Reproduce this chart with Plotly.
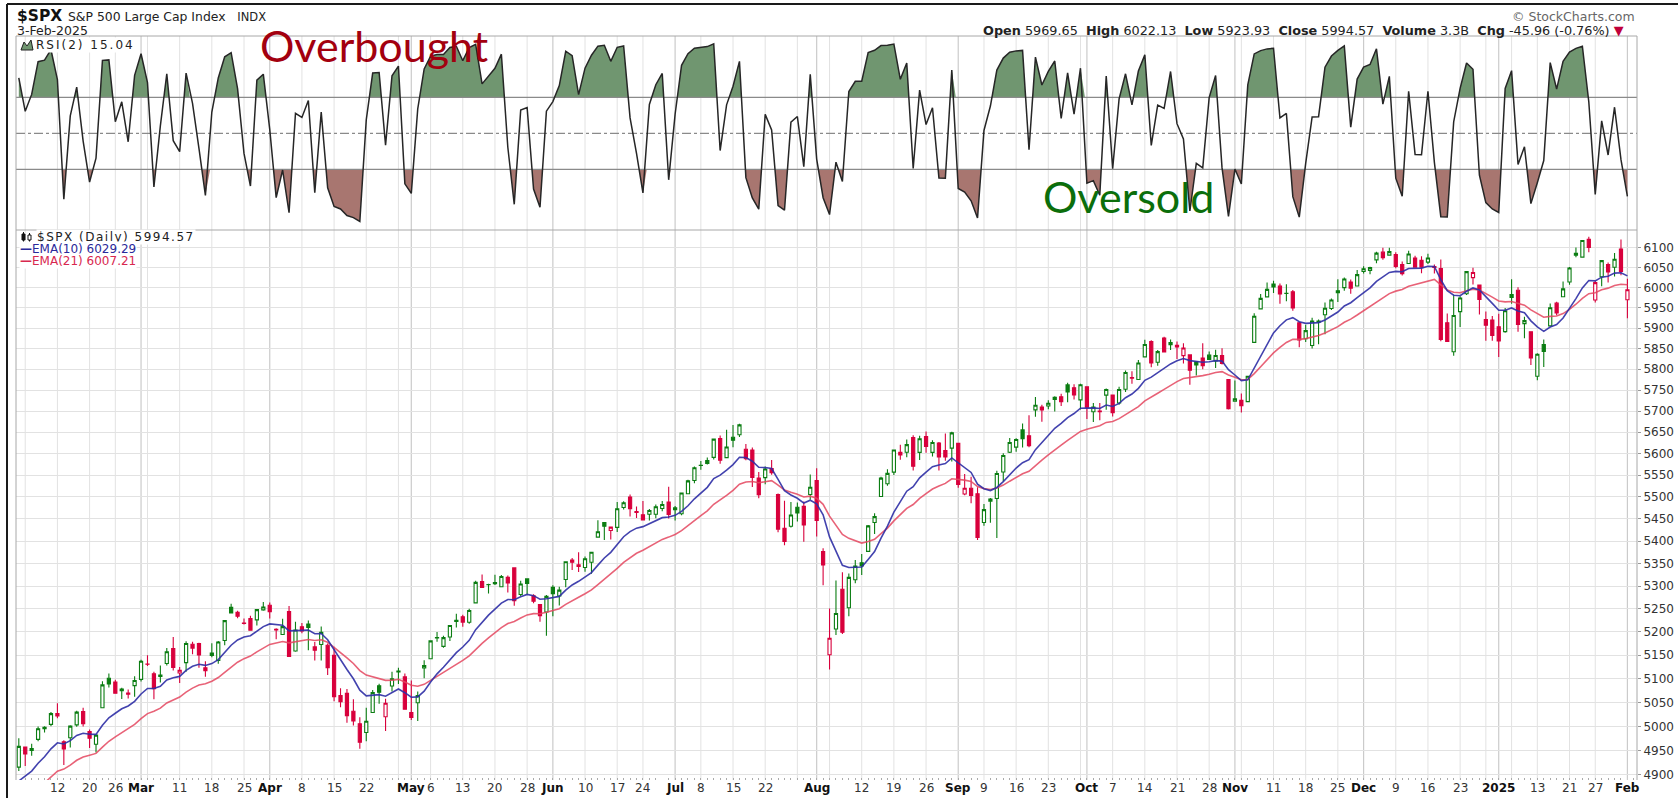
import math
import pandas as pd
import plotly.graph_objects as go

# ---------------- data ----------------
holidays = ["2024-02-19", "2024-03-29", "2024-05-27", "2024-06-19", "2024-07-04",
            "2024-09-02", "2024-11-28", "2024-12-25", "2025-01-01", "2025-01-09", "2025-01-20"]
dates = [d for d in pd.bdate_range("2024-02-02", "2025-02-03")
         if d.strftime("%Y-%m-%d") not in holidays]

# closes before the visible window (Dec 2023 - Feb 1 2024), only used to seed EMA / RSI
warmup_closes = [4594.6, 4569.8, 4567.2, 4549.3, 4585.6, 4604.4, 4622.4, 4643.7, 4707.1, 4719.6,
                 4719.2, 4740.6, 4768.4, 4698.4, 4746.8, 4754.6, 4774.8, 4781.6, 4783.4, 4769.8,
                 4742.8, 4704.8, 4688.7, 4697.2, 4763.5, 4756.5, 4783.5, 4780.2, 4783.8, 4766.0,
                 4739.2, 4780.9, 4839.8, 4850.4, 4864.6, 4868.6, 4894.2, 4891.0, 4927.9, 4925.0,
                 4845.7, 4906.2]

opens = [
    # Feb
    4916.1, 4957.2, 4950.2, 4973.1, 4995.2, 5004.2, 5026.8, 4967.9, 4976.4, 5003.1, 5031.1, 4989.3, 4963.0, 5038.8, 5100.9, 5093.0, 5074.6, 5067.2, 5085.4,
    # Mar
    5098.5, 5131.0, 5110.5, 5108.0, 5132.4, 5164.5, 5112.0, 5134.3, 5173.5, 5175.1, 5123.3, 5154.8, 5139.1, 5181.7, 5253.4, 5242.5, 5219.5, 5228.9, 5226.3, 5248.0,
    # Apr
    5258.0, 5204.3, 5194.4, 5244.1, 5159.0, 5211.4, 5217.0, 5167.9, 5173.0, 5171.5, 5149.7, 5064.6, 5069.0, 5031.5, 5005.4, 4987.3, 5028.9, 5084.9, 5019.9, 5084.7, 5114.1, 5103.8,
    # May
    5029.0, 5049.3, 5122.8, 5142.4, 5187.2, 5169.0, 5189.0, 5225.5, 5233.1, 5221.1, 5263.3, 5310.1, 5303.1, 5305.4, 5298.7, 5319.3, 5340.3, 5281.5, 5315.9, 5278.7, 5259.8, 5243.2,
    # Jun
    5297.2, 5278.2, 5314.5, 5357.8, 5343.8, 5341.2, 5353.0, 5409.1, 5441.9, 5424.1, 5431.1, 5476.2, 5500.0, 5466.8, 5459.6, 5460.7, 5460.7, 5473.6, 5488.5,
    # Jul
    5471.1, 5461.8, 5507.4, 5537.9, 5572.8, 5584.2, 5591.3, 5635.2, 5590.8, 5638.2, 5644.1, 5610.1, 5608.6, 5543.4, 5544.4, 5565.3, 5505.8, 5428.7, 5433.7, 5476.6, 5478.7, 5505.6,
    # Aug
    5537.8, 5376.6, 5151.1, 5206.4, 5293.1, 5252.6, 5314.2, 5351.9, 5377.0, 5442.1, 5501.1, 5530.5, 5557.2, 5602.9, 5603.1, 5637.8, 5602.9, 5639.7, 5602.9, 5624.5, 5607.3, 5612.7,
    # Sep
    5623.9, 5506.7, 5520.1, 5507.3, 5442.1, 5490.5, 5496.4, 5557.5, 5603.3, 5615.2, 5655.5, 5641.7, 5702.8, 5709.7, 5711.9, 5727.7, 5733.7, 5762.2, 5755.4, 5726.5,
    # Oct
    5757.7, 5698.2, 5698.2, 5737.8, 5737.8, 5719.1, 5751.8, 5778.4, 5775.1, 5829.8, 5866.7, 5816.6, 5875.6, 5859.4, 5857.8, 5832.7, 5834.5, 5817.8, 5826.8, 5833.9, 5819.7, 5832.7, 5775.3,
    # Nov
    5723.2, 5725.2, 5722.4, 5864.9, 5947.2, 5976.8, 6008.9, 6003.6, 5985.8, 5989.7, 5912.8, 5874.2, 5857.3, 5914.6, 5932.8, 5948.0, 5992.3, 6000.0, 6014.1, 6004.0,
    # Dec
    6040.1, 6043.0, 6069.4, 6089.0, 6081.4, 6083.0, 6057.6, 6060.2, 6074.3, 6068.2, 6063.8, 6052.6, 6047.7, 5912.7, 5842.0, 5940.3, 5984.6, 6025.0, 6006.2, 5920.7, 5919.7,
    # Jan 2025
    5903.3, 5891.1, 5982.8, 5993.3, 5910.7, 5890.7, 5782.9, 5859.6, 5905.2, 5961.3, 5977.1, 6014.1, 6081.4, 6076.3, 6121.4, 5969.0, 6027.0, 6057.7, 6050.8, 6096.8,
    # Feb 2025
    5969.65,
]
highs = [
    4975.3, 4957.2, 4964.2, 4999.9, 5000.4, 5030.1, 5048.4, 4971.3, 5002.5, 5032.7, 5038.7, 4993.7, 4983.2, 5094.4, 5111.1, 5097.7, 5080.7, 5077.4, 5105.0,
    5140.3, 5149.7, 5114.5, 5128.0, 5165.6, 5189.3, 5124.7, 5179.9, 5179.1, 5176.9, 5136.9, 5175.6, 5180.3, 5226.2, 5261.1, 5246.1, 5229.1, 5235.2, 5249.3, 5264.9,
    5264.0, 5208.3, 5228.8, 5256.6, 5222.2, 5219.6, 5224.8, 5178.4, 5211.8, 5175.0, 5168.4, 5079.8, 5078.0, 5056.7, 5019.0, 5038.8, 5076.1, 5089.5, 5057.8, 5114.6, 5123.5, 5110.8,
    5096.1, 5073.2, 5139.1, 5181.0, 5200.2, 5192.0, 5215.3, 5239.7, 5237.3, 5250.4, 5311.8, 5325.5, 5305.5, 5325.3, 5324.3, 5323.2, 5341.9, 5311.7, 5315.9, 5282.3, 5260.2, 5280.3,
    5302.1, 5298.8, 5354.2, 5362.4, 5375.1, 5365.8, 5376.0, 5447.3, 5441.9, 5432.4, 5488.5, 5490.4, 5505.5, 5478.3, 5490.7, 5472.9, 5483.1, 5490.8, 5523.6,
    5479.6, 5509.7, 5539.3, 5570.3, 5583.1, 5590.8, 5635.4, 5642.5, 5655.6, 5666.9, 5669.7, 5622.5, 5614.1, 5557.5, 5570.4, 5585.3, 5508.0, 5491.6, 5488.3, 5487.7, 5489.5, 5551.5,
    5566.2, 5383.9, 5250.9, 5312.3, 5330.6, 5328.0, 5358.0, 5371.2, 5436.5, 5463.2, 5546.2, 5563.6, 5608.3, 5620.5, 5632.7, 5643.2, 5641.8, 5651.6, 5631.2, 5627.0, 5647.0, 5651.4,
    5623.9, 5553.0, 5546.3, 5522.5, 5484.2, 5497.9, 5560.4, 5600.7, 5636.3, 5636.1, 5670.8, 5689.8, 5733.6, 5715.1, 5725.4, 5735.3, 5741.0, 5767.4, 5763.8, 5765.1,
    5757.7, 5719.1, 5718.8, 5753.5, 5739.3, 5757.6, 5796.8, 5795.0, 5822.1, 5871.4, 5870.4, 5846.5, 5878.5, 5872.2, 5866.9, 5863.0, 5834.9, 5817.8, 5862.8, 5842.9, 5847.2, 5850.9, 5775.3,
    5772.5, 5741.4, 5783.4, 5936.1, 5983.8, 6012.5, 6017.3, 6009.9, 6008.2, 5993.9, 5915.3, 5908.1, 5925.4, 5920.7, 5963.2, 5972.9, 6020.8, 6025.4, 6020.2, 6044.2,
    6053.6, 6052.3, 6089.8, 6100.0, 6100.0, 6088.5, 6065.4, 6092.6, 6079.7, 6078.6, 6085.2, 6057.7, 6070.7, 5935.5, 5982.1, 5978.3, 6040.1, 6049.8, 6006.2, 5940.8, 5929.7,
    5935.1, 5949.3, 6021.0, 6000.7, 5927.9, 5890.7, 5838.8, 5871.9, 5960.6, 5964.7, 6015.0, 6051.5, 6100.8, 6118.7, 6128.2, 6017.2, 6069.1, 6062.8, 6086.6, 6120.9,
    6022.13,
]
lows = [
    4908.0, 4918.1, 4939.2, 4969.1, 4987.1, 5000.3, 5016.8, 4920.3, 4956.5, 4999.4, 4999.5, 4955.0, 4946.0, 5038.8, 5081.5, 5068.9, 5057.3, 5058.4, 5061.9,
    5094.2, 5127.2, 5056.8, 5092.2, 5128.2, 5117.5, 5091.1, 5114.5, 5151.9, 5123.3, 5104.4, 5145.5, 5131.6, 5171.6, 5240.7, 5229.9, 5216.1, 5203.4, 5213.9, 5245.8,
    5229.2, 5184.1, 5194.4, 5146.1, 5157.2, 5197.4, 5160.8, 5138.7, 5138.8, 5107.9, 5052.5, 5039.8, 5007.3, 5001.9, 4953.6, 4969.4, 5028.0, 5047.0, 4990.6, 5073.1, 5088.7, 5035.3,
    5013.5, 5011.1, 5101.2, 5142.4, 5179.0, 5165.9, 5180.4, 5209.7, 5211.2, 5218.0, 5263.3, 5296.2, 5283.6, 5302.4, 5297.9, 5286.0, 5256.9, 5278.4, 5280.9, 5262.7, 5222.1, 5191.7,
    5234.3, 5257.6, 5297.6, 5335.4, 5331.3, 5331.5, 5327.3, 5409.1, 5402.5, 5403.8, 5420.4, 5471.3, 5455.6, 5452.0, 5447.6, 5446.6, 5451.9, 5467.5, 5451.1,
    5446.5, 5458.4, 5507.4, 5531.6, 5562.5, 5574.6, 5586.4, 5576.5, 5590.4, 5614.8, 5639.0, 5584.8, 5522.8, 5497.0, 5529.0, 5550.9, 5420.0, 5391.0, 5430.7, 5444.4, 5398.8, 5493.8,
    5410.4, 5302.0, 5119.3, 5193.6, 5195.5, 5233.9, 5306.2, 5324.4, 5377.0, 5415.8, 5501.1, 5525.6, 5550.7, 5585.5, 5591.6, 5561.0, 5585.2, 5602.3, 5593.5, 5561.0, 5583.7, 5581.8,
    5521.2, 5503.7, 5485.7, 5402.6, 5434.5, 5441.7, 5407.0, 5535.5, 5601.7, 5604.5, 5614.1, 5615.1, 5686.4, 5674.5, 5704.2, 5699.0, 5712.1, 5721.0, 5727.3, 5703.5,
    5681.3, 5674.0, 5678.0, 5702.8, 5686.9, 5714.6, 5745.0, 5764.8, 5775.1, 5829.8, 5804.5, 5808.3, 5840.3, 5846.1, 5824.8, 5813.9, 5762.4, 5784.9, 5800.0, 5823.1, 5802.6, 5811.3, 5703.4,
    5723.2, 5696.5, 5722.1, 5864.9, 5947.2, 5976.8, 5986.7, 5960.1, 5965.9, 5942.3, 5853.0, 5866.0, 5850.3, 5860.6, 5885.0, 5944.4, 5963.9, 5992.3, 5984.9, 6004.0,
    6035.3, 6033.4, 6061.1, 6070.0, 6080.0, 6048.6, 6029.9, 6060.2, 6051.3, 6035.8, 6059.1, 6035.2, 5867.8, 5866.1, 5832.3, 5902.6, 5981.4, 6007.4, 5933.0, 5869.2, 5868.9,
    5829.5, 5888.7, 5960.0, 5890.7, 5874.8, 5809.8, 5773.3, 5805.3, 5905.2, 5931.4, 5977.1, 6006.9, 6076.1, 6074.7, 6088.7, 5962.9, 6003.6, 6013.0, 6027.5, 6030.9,
    5923.93,
]
closes = [
    4958.6, 4942.8, 4954.2, 4995.1, 4997.9, 5026.6, 5021.8, 4953.2, 5000.6, 5029.7, 5005.6, 4975.5, 4981.8, 5087.0, 5088.8, 5069.5, 5078.2, 5069.8, 5096.3,
    5137.1, 5130.9, 5078.7, 5104.8, 5157.4, 5123.7, 5117.9, 5175.3, 5165.3, 5150.5, 5117.1, 5149.4, 5178.5, 5224.6, 5241.5, 5234.2, 5218.2, 5203.6, 5248.5, 5254.4,
    5243.8, 5205.8, 5211.5, 5147.2, 5204.3, 5202.4, 5209.9, 5160.6, 5199.1, 5123.4, 5061.8, 5051.4, 5022.2, 5011.1, 4967.2, 5010.6, 5070.6, 5071.6, 5048.4, 5100.0, 5116.2, 5035.7,
    5018.4, 5064.2, 5127.8, 5180.7, 5187.7, 5187.7, 5214.1, 5222.7, 5221.4, 5246.7, 5308.2, 5297.1, 5303.3, 5308.1, 5321.4, 5307.0, 5267.8, 5304.7, 5306.0, 5267.0, 5235.5, 5277.5,
    5283.4, 5291.3, 5354.0, 5353.0, 5347.0, 5360.8, 5375.3, 5421.0, 5433.7, 5431.6, 5473.2, 5487.0, 5473.2, 5464.6, 5447.9, 5469.3, 5477.9, 5482.9, 5460.5,
    5475.1, 5509.0, 5537.0, 5567.2, 5572.9, 5577.0, 5633.9, 5584.5, 5615.4, 5631.2, 5667.2, 5588.3, 5544.6, 5505.0, 5564.4, 5555.7, 5427.1, 5399.2, 5459.1, 5463.5, 5436.4, 5522.3,
    5446.7, 5346.6, 5186.3, 5240.0, 5199.5, 5319.3, 5344.2, 5344.4, 5434.4, 5455.2, 5543.2, 5554.3, 5608.3, 5597.1, 5620.9, 5570.6, 5634.6, 5616.8, 5625.8, 5592.2, 5592.0, 5648.4,
    5528.9, 5520.1, 5503.4, 5408.4, 5471.1, 5495.5, 5554.1, 5595.8, 5626.0, 5633.1, 5634.6, 5618.3, 5713.6, 5702.6, 5718.6, 5732.9, 5722.3, 5745.4, 5738.2, 5762.5,
    5708.8, 5709.5, 5699.9, 5751.1, 5695.9, 5751.1, 5792.0, 5780.1, 5815.0, 5859.9, 5815.3, 5842.5, 5841.5, 5864.7, 5854.0, 5851.2, 5797.4, 5809.9, 5808.1, 5823.5, 5832.9, 5813.7, 5705.5,
    5728.8, 5712.7, 5782.8, 5929.0, 5973.1, 5995.5, 6001.4, 5984.0, 5985.4, 5949.2, 5870.6, 5893.6, 5917.0, 5917.1, 5948.7, 5969.3, 5987.4, 6021.6, 5998.7, 6032.4,
    6047.2, 6049.9, 6086.5, 6075.1, 6090.3, 6052.9, 6034.9, 6084.2, 6051.3, 6051.1, 6074.1, 6050.6, 5872.2, 5867.1, 5930.9, 5974.1, 6040.0, 6037.6, 5970.8, 5906.9, 5881.6,
    5868.6, 5942.5, 5975.4, 5909.0, 5918.3, 5827.0, 5836.2, 5842.9, 5949.9, 5937.3, 5996.7, 6049.2, 6086.4, 6118.7, 6101.2, 6012.3, 6067.7, 6039.3, 6071.2, 6040.5,
    5994.57,
]

tick_dates = ["2024-02-12", "2024-02-20", "2024-02-26", "2024-03-01", "2024-03-11", "2024-03-18", "2024-03-25",
              "2024-04-01", "2024-04-08", "2024-04-15", "2024-04-22", "2024-05-01", "2024-05-06", "2024-05-13",
              "2024-05-20", "2024-05-28", "2024-06-03", "2024-06-10", "2024-06-17", "2024-06-24", "2024-07-01",
              "2024-07-08", "2024-07-15", "2024-07-22", "2024-08-01", "2024-08-12", "2024-08-19", "2024-08-26",
              "2024-09-03", "2024-09-09", "2024-09-16", "2024-09-23", "2024-10-01", "2024-10-07", "2024-10-14",
              "2024-10-21", "2024-10-28", "2024-11-01", "2024-11-11", "2024-11-18", "2024-11-25", "2024-12-02",
              "2024-12-09", "2024-12-16", "2024-12-23", "2025-01-02", "2025-01-13", "2025-01-21", "2025-01-27",
              "2025-02-03"]
tick_labels = ["12", "20", "26", "Mar", "11", "18", "25", "Apr", "8", "15", "22", "May", "6", "13", "20", "28",
               "Jun", "10", "17", "24", "Jul", "8", "15", "22", "Aug", "12", "19", "26", "Sep", "9", "16", "23",
               "Oct", "7", "14", "21", "28", "Nov", "11", "18", "25", "Dec", "9", "16", "23", "2025", "13", "21",
               "27", "Feb"]
price_ticks = list(range(4900, 6101, 50))
rsi_levels = [30, 50, 70]
rsi_labels = [10, 30, 50, 70, 90]

assert len(dates) == len(opens) == len(highs) == len(lows) == len(closes) == 251

# ---------------- indicators ----------------
all_close = pd.Series(warmup_closes + closes)
nw = len(warmup_closes)
ema10 = all_close.ewm(span=10, adjust=False).mean().iloc[nw:].values
ema21 = all_close.ewm(span=21, adjust=False).mean().iloc[nw:].values
delta = all_close.diff()
avg_gain = delta.clip(lower=0).ewm(alpha=0.5, adjust=False).mean()
avg_loss = (-delta.clip(upper=0)).ewm(alpha=0.5, adjust=False).mean()
rsi = (100 - 100 / (1 + avg_gain / avg_loss)).iloc[nw:].values
prev_close = all_close.shift(1).iloc[nw:].values

df = pd.DataFrame(dict(i=range(len(dates)), o=opens, h=highs, l=lows, c=closes, prev=prev_close))
date_idx = {d.strftime("%Y-%m-%d"): i for i, d in enumerate(dates)}

# ---------------- geometry ----------------
W, H = 1678, 798
ML, MR, MT, MB = 16, 41, 36, 18
PW, PH = W - ML - MR, H - MT - MB
X0, X1 = -0.435, 251.49
dP = (H - MB - 230) / PH
RSI_LO, RSI_HI = -3.7, 104.1


def px(x):
    return (x - ML) / PW


def py(y):
    return (H - MB - y) / PH


def rsi_frac(v):
    return dP + (v - RSI_LO) / (RSI_HI - RSI_LO) * (1 - dP)


GREEN = "#0b7d12"
RED = "#d8003c"
FONT = "DejaVu Sans"

fig = go.Figure()


def candles(sub, color):
    return go.Candlestick(
        x=sub.i, open=sub.o, high=sub.h, low=sub.l, close=sub.c,
        increasing=dict(line=dict(color=color, width=1.1), fillcolor="white"),
        decreasing=dict(line=dict(color=color, width=1.1), fillcolor=color),
        whiskerwidth=0, hoverinfo="skip", xaxis="x", yaxis="y")


fig.add_trace(go.Scatter(x=df.i, y=ema21, mode="lines", line=dict(color="rgba(228,70,95,0.85)", width=1.6),
                         hoverinfo="skip", xaxis="x", yaxis="y"))
fig.add_trace(go.Scatter(x=df.i, y=ema10, mode="lines", line=dict(color="rgba(45,45,165,0.9)", width=1.6),
                         hoverinfo="skip", xaxis="x", yaxis="y"))
fig.add_trace(candles(df[df.c >= df.prev], GREEN))
fig.add_trace(candles(df[df.c < df.prev], RED))

# RSI fills: clipped by axes whose domains start/end at the 70 / 30 levels
fig.add_trace(go.Scatter(x=df.i, y=rsi, mode="lines", line=dict(width=0), fill="tozeroy",
                         fillcolor="rgb(112,150,112)", hoverinfo="skip", xaxis="x2", yaxis="y3"))
fig.add_trace(go.Scatter(x=df.i, y=[200] * len(df), mode="lines", line=dict(width=0),
                         hoverinfo="skip", xaxis="x2", yaxis="y4"))
fig.add_trace(go.Scatter(x=df.i, y=rsi, mode="lines", line=dict(width=0), fill="tonexty",
                         fillcolor="rgb(168,118,112)", hoverinfo="skip", xaxis="x2", yaxis="y4"))
for lv in rsi_levels:
    fig.add_trace(go.Scatter(x=[X0, X1], y=[lv, lv], mode="lines",
                             line=dict(color="#8a8a8a", width=1.2, dash="dashdot" if lv == 50 else "solid"),
                             hoverinfo="skip", xaxis="x2", yaxis="y5"))
fig.add_trace(go.Scatter(x=df.i, y=rsi, mode="lines", line=dict(color="#262626", width=1.5),
                         hoverinfo="skip", xaxis="x2", yaxis="y5"))

# ---------------- grid / frame shapes ----------------
shapes = []
for i in range(1, len(dates)):
    new_week = dates[i].isocalendar()[1] != dates[i - 1].isocalendar()[1]
    new_month = dates[i].month != dates[i - 1].month
    if new_month:
        shapes.append(dict(type="line", xref="x", yref="paper", x0=i, x1=i, y0=0, y1=1,
                           line=dict(color="#cbcbcb", width=1.2), layer="below"))
    elif new_week:
        shapes.append(dict(type="line", xref="x", yref="paper", x0=i, x1=i, y0=0, y1=1,
                           line=dict(color="#e2e2e2", width=1), layer="below"))

FRAME = dict(color="#a8a8a8", width=1)
shapes += [
    dict(type="rect", xref="paper", yref="paper", x0=0, x1=1, y0=dP, y1=1, line=FRAME),
    dict(type="line", xref="paper", yref="paper", x0=0, x1=0, y0=0, y1=dP, line=FRAME),
    dict(type="line", xref="paper", yref="paper", x0=1, x1=1, y0=0, y1=dP, line=FRAME),
    # outer black frame
    dict(type="line", xref="paper", yref="paper", x0=px(7), x1=px(W + 5), y0=py(4), y1=py(4),
         line=dict(color="#1a1a1a", width=2)),
    dict(type="line", xref="paper", yref="paper", x0=px(7), x1=px(7), y0=py(4), y1=py(H + 5),
         line=dict(color="#1a1a1a", width=2)),
    # RSI legend icon
    dict(type="path", xref="paper", yref="paper",
         path="M {0},{1} L {2},{3} L {4},{5} L {6},{7} L {8},{1} Z".format(
             px(21), py(50), px(24), py(42), px(27), py(46), px(31), py(40), px(33)),
         fillcolor="rgb(112,150,112)", line=dict(color="#222", width=1)),
    # price legend icon (two tiny candles)
    dict(type="line", xref="paper", yref="paper", x0=px(23.5), x1=px(23.5), y0=py(232), y1=py(242),
         line=dict(color="#111", width=1)),
    dict(type="rect", xref="paper", yref="paper", x0=px(22), x1=px(25), y0=py(234), y1=py(240),
         fillcolor="#111", line=dict(color="#111", width=1)),
    dict(type="line", xref="paper", yref="paper", x0=px(29.5), x1=px(29.5), y0=py(233), y1=py(242),
         line=dict(color="#111", width=1)),
    dict(type="rect", xref="paper", yref="paper", x0=px(28), x1=px(31), y0=py(235), y1=py(240),
         fillcolor="white", line=dict(color="#111", width=1)),
]


# ---------------- annotations ----------------
def label(x, y, text, size, color="#222", anchor="left", family=FONT, bg=None, spacing=None):
    if spacing:
        text = "<span style='letter-spacing:%spx'>%s</span>" % (spacing, text)
    d = dict(xref="paper", yref="paper", x=px(x), y=py(y), text=text, showarrow=False,
             xanchor=anchor, yanchor="middle", font=dict(family=family, size=size, color=color))
    if bg:
        d.update(bgcolor=bg, borderpad=0)
    return d


annotations = [
    label(15, 16, "<b>$SPX</b>", 15.5, "#111"),
    label(66, 17, "S&P 500 Large Cap Index&nbsp;&nbsp;&nbsp;<span style='font-size:11.5px'>INDX</span>",
          12.4, "#222"),
    label(15, 31, "3-Feb-2025", 12.5, "#222"),
    label(1637, 16, "© StockCharts.com", 12.5, "#666", anchor="right"),
    label(1626, 30, "<b>Open</b> 5969.65  <b>High</b> 6022.13  <b>Low</b> 5923.93  <b>Close</b> 5994.57  "
                    "<b>Volume</b> 3.3B  <b>Chg</b> -45.96 (-0.76%) <span style='color:#c0003a'>▼</span>",
          12.8, "#222", anchor="right"),
    label(35, 45, "RSI(2) 15.04", 12, "#222", bg="white", spacing=2),
    label(258, 46, "Overbought", 43, "#a3000f", family="Lato"),
    label(1041, 196, "Oversold", 43, "#0b6e0b", family="Lato"),
    label(36, 237, "$SPX (Daily) 5994.57", 12, "#222", bg="white", spacing=1.5),
    label(19, 249, "<b>—</b>EMA(10) 6029.29", 12, "#2a2a9a", bg="white"),
    label(19, 261, "<b>—</b>EMA(21) 6007.21", 12, "#d8284f", bg="white"),
]

# x-axis date labels, placed just under the price panel
for d, t in zip(tick_dates, tick_labels):
    is_month = not t.isdigit() or len(t) == 4
    annotations.append(dict(xref="x", yref="paper", x=date_idx[d], y=py(788), showarrow=False,
                            xanchor="center", yanchor="middle",
                            text="<b>%s</b>" % t if is_month else t,
                            font=dict(family=FONT, size=12, color="#111" if is_month else "#333")))

fig.update_layout(
    width=W, height=H, margin=dict(l=ML, r=MR, t=MT, b=MB, autoexpand=False),
    paper_bgcolor="white", plot_bgcolor="rgba(0,0,0,0)", showlegend=False,
    xaxis=dict(domain=[0, 1], anchor="y", range=[X0, X1], showticklabels=False,
               showgrid=False, zeroline=False, showline=False, ticks="", automargin=False,
               rangeslider=dict(visible=False),
               minor=dict(ticks="inside", ticklen=2, tickcolor="#aaa", tickmode="linear", tick0=0, dtick=1,
                          showgrid=False)),
    xaxis2=dict(domain=[0, 1], anchor="y2", matches="x", showticklabels=False, showgrid=False,
                zeroline=False, ticks="", automargin=False, rangeslider=dict(visible=False)),
    yaxis=dict(domain=[0, dP], anchor="x", type="log", range=[math.log10(4889.8), math.log10(6145.3)],
               side="right", tickmode="array", tickvals=price_ticks, ticktext=[str(v) for v in price_ticks],
               showgrid=True, gridcolor="#e2e2e2", zeroline=False, ticks="outside", ticklen=3, automargin=False,
               tickcolor="#999", tickfont=dict(family=FONT, size=12, color="#333")),
    yaxis2=dict(domain=[dP, 1], anchor="x2", range=[RSI_LO, RSI_HI], side="right", tickmode="array",
                tickvals=list(range(0, 101, 10)),
                ticktext=[str(v) if v in rsi_labels else "" for v in range(0, 101, 10)],
                showgrid=True, gridcolor="#e2e2e2", zeroline=False, ticks="outside", ticklen=3, automargin=False,
                tickcolor="#999", tickfont=dict(family=FONT, size=12, color="#333")),
    yaxis3=dict(domain=[rsi_frac(70), 1], anchor="x2", range=[70, RSI_HI], visible=False, automargin=False),
    yaxis4=dict(domain=[dP, rsi_frac(30)], anchor="x2", range=[RSI_LO, 30], visible=False, automargin=False),
    yaxis5=dict(domain=[dP, 1], anchor="x2", range=[RSI_LO, RSI_HI], visible=False, automargin=False),
    shapes=shapes, annotations=annotations,
)

fig.write_html("out.html", config={"displayModeBar": False},
               post_script="document.body.style.margin='0';")
